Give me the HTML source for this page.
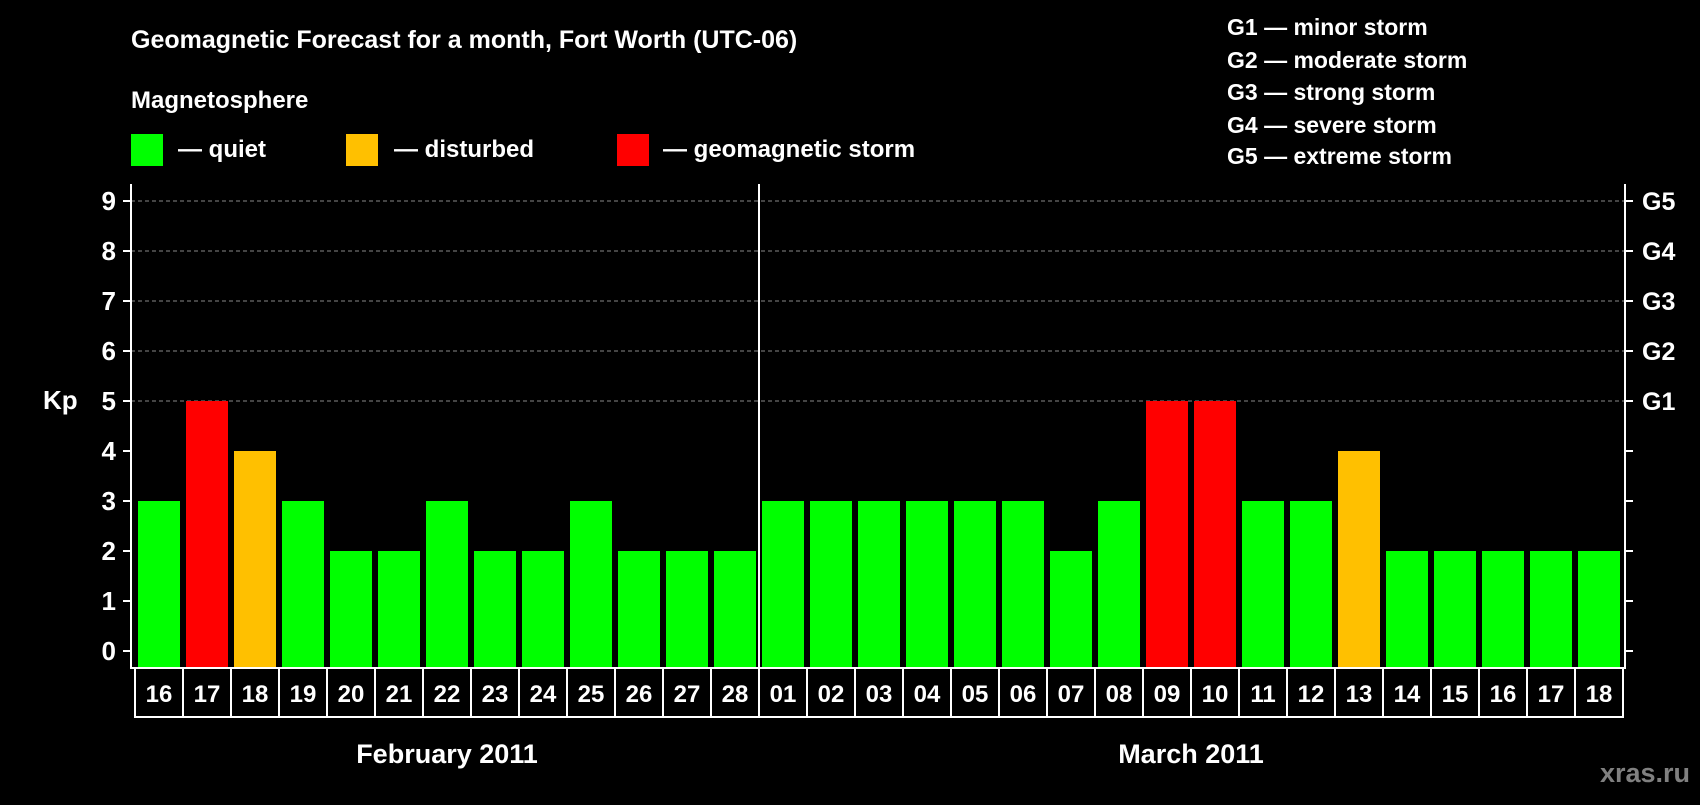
<!DOCTYPE html>
<html><head><meta charset="utf-8"><style>
body{margin:0;background:#000;width:1700px;height:800px;overflow:hidden}
svg text{font-family:"Liberation Sans",sans-serif;font-weight:bold;fill:#fff}
</style></head><body>
<svg id="c" width="1700" height="800">
<rect width="1700" height="800" fill="#000"/>
<text x="131" y="48" font-size="25">Geomagnetic Forecast for a month, Fort Worth (UTC-06)</text>
<text x="131" y="108" font-size="24">Magnetosphere</text>
<g><rect x="131" y="134" width="32" height="32" fill="#00ff00"/><text x="178" y="157" font-size="24">— quiet</text></g>
<g><rect x="346" y="134" width="32" height="32" fill="#ffc000"/><text x="394" y="157" font-size="24">— disturbed</text></g>
<g><rect x="617" y="134" width="32" height="32" fill="#ff0000"/><text x="663" y="157" font-size="24">— geomagnetic storm</text></g>
<g font-size="23">
<text x="1227" y="35" font-size="23">G1 — minor storm</text>
<text x="1227" y="68" font-size="23">G2 — moderate storm</text>
<text x="1227" y="100" font-size="23">G3 — strong storm</text>
<text x="1227" y="133" font-size="23">G4 — severe storm</text>
<text x="1227" y="164" font-size="23">G5 — extreme storm</text>
</g>
<text x="43" y="409" font-size="26">Kp</text>
<text x="1690" y="782" font-size="27" text-anchor="end" style="fill:#808080">xras.ru</text>
<g id="g"></g>
</svg>
<script>
const days=["16","17","18","19","20","21","22","23","24","25","26","27","28","01","02","03","04","05","06","07","08","09","10","11","12","13","14","15","16","17","18"];
const kp=[3,5,4,3,2,2,3,2,2,3,2,2,2,3,3,3,3,3,3,2,3,5,5,3,3,4,2,2,2,2,2];
const yTicks=[0,1,2,3,4,5,6,7,8,9];
const gLabels=["G1","G2","G3","G4","G5"];
const months=["February 2011","March 2011"];
const monthDays=[13,18];
const NS="http://www.w3.org/2000/svg";
const g=document.getElementById('g');
const L=131,R=1625,T=184,B=668,x0=135,cw=48,y0=651,ys=50;
const y=v=>y0-v*ys, x=i=>x0+i*cw;
function el(t,a,txt){const e=document.createElementNS(NS,t);for(const k in a)e.setAttribute(k,a[k]);if(txt!=null)e.textContent=txt;g.appendChild(e);return e;}
yTicks.forEach(v=>{
 if(v>=5){const l=el('line',{x1:L,x2:R,y1:y(v),y2:y(v),stroke:'#888','stroke-dasharray':'4,3','stroke-width':1});
 
 }
 const t=el('line',{x1:L-8,x2:L,y1:y(v),y2:y(v),stroke:'#fff','stroke-width':2});
 
 
 const t2=el('line',{x1:R,x2:R+8,y1:y(v),y2:y(v),stroke:'#fff','stroke-width':2});
 
 
 const lb=el('text',{x:116,y:y(v)+9,'font-size':26,'text-anchor':'end'},String(v));
 
 
});
gLabels.forEach((s,i)=>{
 const t=el('text',{x:1642,y:y(5+i)+9,'font-size':25},s);
 
 
});
kp.forEach((v,i)=>{
 const c=v>=5?'#ff0000':v>=4?'#ffc000':'#00ff00';
 const b=el('rect',{x:x(i)+3,y:y(v),width:42,height:B-y(v),fill:c});
 
 
 const bx=el('rect',{x:x(i),y:B,width:cw,height:49,fill:'none',stroke:'#fff','stroke-width':2});
 
 
 const t=el('text',{x:x(i)+cw/2,y:B+34,'font-size':24,'text-anchor':'middle'},days[i]);
 
 
});
const ax=el('path',{d:`M${L} ${T}V${B}H${R}V${T}`,fill:'none',stroke:'#fff','stroke-width':2});


const dv=x(monthDays[0]);
const d=el('line',{x1:dv,x2:dv,y1:T,y2:B,stroke:'#fff','stroke-width':2});


let s=0;months.forEach((m,i)=>{
 const cx=(x(s)+x(s+monthDays[i]))/2;s+=monthDays[i];
 const t=el('text',{x:cx,y:763,'font-size':27,'text-anchor':'middle'},m);
 
 
});
</script>
</body></html>
